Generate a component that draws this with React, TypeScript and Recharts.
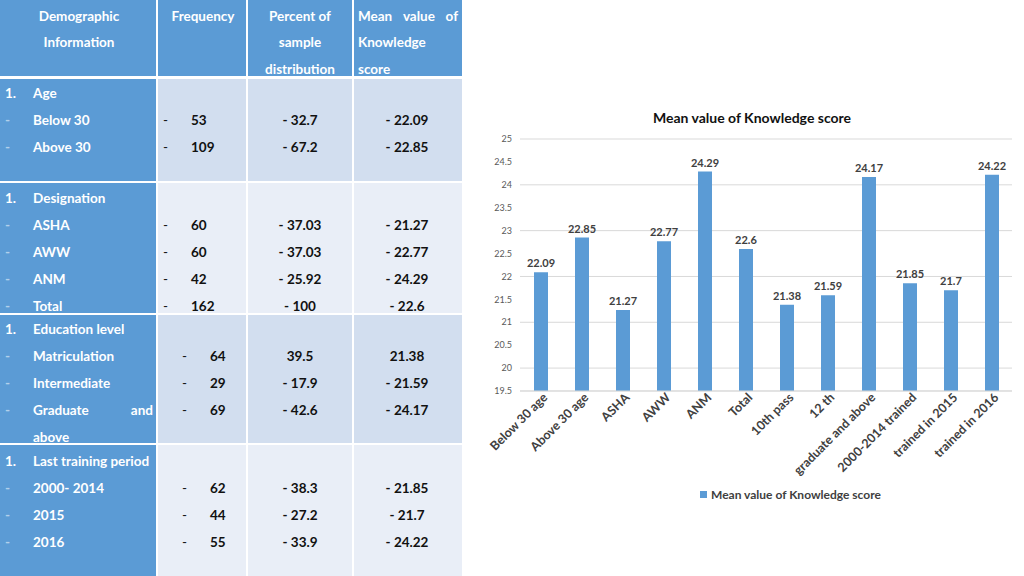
import React from 'react';
import { BarChart, Bar, XAxis, YAxis, CartesianGrid, Legend, LabelList } from 'recharts';

const categories = [
  'Below 30 age', 'Above 30 age', 'ASHA', 'AWW', 'ANM', 'Total',
  '10th pass', '12 th', 'graduate and above', '2000-2014 trained', 'trained in 2015', 'trained in 2016',
];
const meanScores = [22.09, 22.85, 21.27, 22.77, 24.29, 22.6, 21.38, 21.59, 24.17, 21.85, 21.7, 24.22];
const yTicks = [19.5, 20, 20.5, 21, 21.5, 22, 22.5, 23, 23.5, 24, 24.5, 25];

// table rows: label, frequency, percent, mean
const ageRows = [
  ['Below 30', '53', '- 32.7', '- 22.09'],
  ['Above 30', '109', '- 67.2', '- 22.85'],
];
const designationRows = [
  ['ASHA', '60', '- 37.03', '- 21.27'],
  ['AWW', '60', '- 37.03', '- 22.77'],
  ['ANM', '42', '- 25.92', '- 24.29'],
  ['Total', '162', '- 100', '- 22.6'],
];
const educationRows = [
  ['Matriculation', '64', '39.5', '21.38'],
  ['Intermediate', '29', '- 17.9', '- 21.59'],
  ['Graduate and', '69', '- 42.6', '- 24.17'],
];
const trainingRows = [
  ['2000- 2014', '62', '- 38.3', '- 21.85'],
  ['2015', '44', '- 27.2', '- 21.7'],
  ['2016', '55', '- 33.9', '- 24.22'],
];

const data = categories.map((name, i) => ({ name, score: meanScores[i] }));

const BLUE = '#5b9bd5';
const LIGHT1 = '#d2deef';
const LIGHT2 = '#e9eef7';
const FONT = "Lato, 'Open Sans', sans-serif";

const cols = [
  { left: 0, width: 156 },
  { left: 158, width: 88 },
  { left: 248, width: 104 },
  { left: 354, width: 108 },
];

const txt = (x: number, y: number, s: React.ReactNode, extra: React.CSSProperties = {}) => (
  <div
    style={{
      position: 'absolute', left: x, top: y - 9, height: 18, lineHeight: '18px',
      fontSize: 13.5, fontWeight: 700, whiteSpace: 'nowrap', ...extra,
    }}
  >
    {s}
  </div>
);

const centered = (cx: number, y: number, s: string, color = '#111') =>
  txt(cx - 60, y, s, { width: 120, textAlign: 'center', color });

interface SectionProps {
  top: number;
  height: number;
  bg: string;
  title: string;
  rows: string[][];
  firstY: number;
  dashX: number;
  extraLine?: string;
}

const Section = ({ top, height, bg, title, rows, firstY, dashX, extraLine }: SectionProps) => {
  const step = 27;
  return (
    <>
      {cols.map((c, i) => (
        <div key={i} style={{ position: 'absolute', left: c.left, top, width: c.width, height, background: i === 0 ? BLUE : bg }} />
      ))}
      {txt(5, firstY, '1.', { color: '#fff' })}
      {txt(33, firstY, title, { color: '#fff' })}
      {rows.map((r, i) => {
        const y = firstY + step * (i + 1);
        const justify = r[0].includes(' and');
        return (
          <React.Fragment key={i}>
            {txt(5, y, '-', { color: 'rgba(255,255,255,0.55)' })}
            {justify
              ? txt(33, y, (
                  <div style={{ display: 'flex', justifyContent: 'space-between', width: 120 }}>
                    {r[0].split(' ').map((w) => <span key={w}>{w}</span>)}
                  </div>
                ), { color: '#fff' })
              : txt(33, y, r[0], { color: '#fff' })}
            {txt(dashX, y, '-', { color: '#111', fontWeight: 400 })}
            {txt(dashX + 28, y, r[1], { color: '#111' })}
            {centered(300, y, r[2])}
            {centered(407, y, r[3])}
          </React.Fragment>
        );
      })}
      {extraLine && txt(33, firstY + step * (rows.length + 1), extraLine, { color: '#fff' })}
    </>
  );
};

const XTick = (props: any) => {
  const { x, y, payload } = props;
  return (
    <g transform={`translate(${x},${y})`}>
      <text
        x={0} y={0} dx={6} dy={5} textAnchor="end" transform="rotate(-45)"
        fontSize={12.5} fontWeight={700} fill="#404040" fontFamily={FONT}
      >
        {payload.value}
      </text>
    </g>
  );
};

const LegendContent = () => (
  <div style={{ display: 'flex', alignItems: 'center', fontFamily: FONT, fontSize: 12, fontWeight: 700, color: '#404040' }}>
    <span style={{ display: 'inline-block', width: 7, height: 7, background: BLUE, marginRight: 4 }} />
    Mean value of Knowledge score
  </div>
);

export default function App() {
  return (
    <div style={{ position: 'absolute', left: 0, top: 0, width: 1024, height: 576, background: '#fff', fontFamily: FONT, overflow: 'hidden' }}>
      {/* header */}
      {cols.map((c, i) => (
        <div key={i} style={{ position: 'absolute', left: c.left, top: 0, width: c.width, height: 76, background: BLUE }} />
      ))}
      {centered(79, 16, 'Demographic', '#fff')}
      {centered(79, 42, 'Information', '#fff')}
      {centered(203, 16, 'Frequency', '#fff')}
      {centered(300, 16, 'Percent of', '#fff')}
      {centered(300, 42, 'sample', '#fff')}
      {centered(300, 69, 'distribution', '#fff')}
      {txt(358, 16, (
        <div style={{ display: 'flex', justifyContent: 'space-between', width: 100 }}>
          <span>Mean</span><span>value</span><span>of</span>
        </div>
      ), { color: '#fff' })}
      {txt(358, 42, 'Knowledge', { color: '#fff' })}
      {txt(358, 69, 'score', { color: '#fff' })}

      <Section top={79} height={102} bg={LIGHT1} title="Age" rows={ageRows} firstY={93} dashX={163} />
      <Section top={183} height={130} bg={LIGHT2} title="Designation" rows={designationRows} firstY={198} dashX={163} />
      <Section top={315} height={128} bg={LIGHT1} title="Education level" rows={educationRows} firstY={329} dashX={182} extraLine="above" />
      <Section top={445} height={131} bg={LIGHT2} title="Last training period" rows={trainingRows} firstY={461} dashX={182} />

      {/* chart */}
      <div style={{ position: 'absolute', left: 480, top: 109, width: 544, textAlign: 'center', fontSize: 14, fontWeight: 700, color: '#111' }}>
        Mean value of Knowledge score
      </div>
      <div style={{ position: 'absolute', left: 480, top: 100 }}>
        <BarChart width={544} height={412} data={data} margin={{ top: 39, right: 12, left: 10, bottom: 10 }}>
          <CartesianGrid vertical={false} stroke="#d9d9d9" />
          <XAxis
            dataKey="name" interval={0} height={96} tickLine={false}
            axisLine={{ stroke: '#d9d9d9' }} tick={<XTick />}
          />
          <YAxis
            width={30} domain={[19.5, 25]} ticks={yTicks} axisLine={false} tickLine={false}
            tick={{ fontSize: 9, fill: '#595959', fontFamily: FONT }}
          />
          <Legend content={<LegendContent />} wrapperStyle={{ left: 220, width: 'auto' }} />
          <Bar dataKey="score" name="Mean value of Knowledge score" fill={BLUE} barSize={14} isAnimationActive={false}>
            <LabelList dataKey="score" position="top" offset={5} fontSize={11} fontWeight={700} fill="#404040" fontFamily={FONT} />
          </Bar>
        </BarChart>
      </div>
    </div>
  );
}
